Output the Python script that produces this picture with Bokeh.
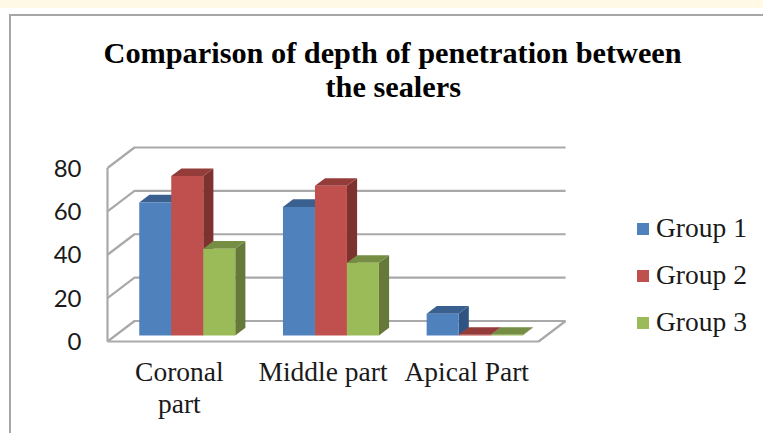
from bokeh.plotting import figure
from bokeh.embed import file_html
from bokeh.resources import INLINE
from bokeh.models import Range1d, Legend, LegendItem, FixedTicker, Title

categories = ["Coronal\npart", "Middle part", "Apical Part"]
groups = ["Group 1", "Group 2", "Group 3"]
group_1 = [61.3, 59.3, 10]
group_2 = [73.5, 69, 0.3]
group_3 = [40, 33.5, 0.3]
y_ticks = [0, 20, 40, 60, 80]

front_colors = ["#4f81bd", "#c0504d", "#9bbb59"]
side_colors = ["#2f5482", "#7d3230", "#66793a"]
top_colors = ["#3a6090", "#943c3a", "#758e43"]
wall = "#a9a9a9"

W, H = 763, 433
LEFT, RIGHT, TOP, BOTTOM = 105, 0, 138, 88   # frame margins in canvas px

# scales: one category = 143.7 px, 80 units = 173.5 px
PX_X = 143.7
PX_Y = 173.5 / 80
frame_w = W - LEFT - RIGHT
frame_h = H - TOP - BOTTOM
x0 = -0.5 - 2 / PX_X
y0 = -4 / PX_Y

p = figure(width=W, height=H, output_backend="svg", toolbar_location=None,
           x_range=Range1d(x0, x0 + frame_w / PX_X),
           y_range=Range1d(y0, y0 + frame_h / PX_Y),
           min_border_left=LEFT, min_border_right=RIGHT,
           min_border_top=TOP, min_border_bottom=BOTTOM,
           background_fill_color="white", border_fill_color=None,
           outline_line_color=None)
p.xgrid.visible = False
p.ygrid.visible = False

# oblique projection of the 3D wall/floor
DX = 27 / PX_X
DY = 20.5 / PX_Y
xl, xr = -0.5, 2.5

for t in y_ticks:
    p.line([xl, xl + DX, xr + DX], [t, t + DY, t + DY], line_color=wall, line_width=2.2)
p.line([xl, xl], [0, 80], line_color=wall, line_width=2.2)
p.line([xl, xr, xr + DX], [0, 0, DY], line_color=wall, line_width=2.2)

# bars
BAR_W = 32 / PX_X
D0, D1 = 6.0 / 20.5, 13.7 / 20.5
GROUP_X0 = -1.5 * BAR_W
series = [group_1, group_2, group_3]
renderers = []
for i in range(len(categories)):
    for s, vals in enumerate(series):
        v = vals[i]
        xa = i + GROUP_X0 + s * BAR_W
        xb = xa + BAR_W
        ax, ay = D0 * DX, D0 * DY
        bx, by = D1 * DX, D1 * DY
        p.patch([xb + ax, xb + bx, xb + bx, xb + ax], [ay, by, v + by, v + ay],
                fill_color=side_colors[s], line_color=None)
        p.patch([xa + ax, xb + ax, xb + bx, xa + bx], [v + ay, v + ay, v + by, v + by],
                fill_color=top_colors[s], line_color=None)
        r = p.quad(left=[xa + ax], right=[xb + ax], bottom=[ay], top=[v + ay],
                   fill_color=front_colors[s], line_color=None)
        if i == 0:
            renderers.append(r)

# axes
p.yaxis.ticker = FixedTicker(ticks=y_ticks)
p.yaxis.axis_line_color = None
p.yaxis.major_tick_line_color = None
p.yaxis.minor_tick_line_color = None
p.yaxis.major_label_text_font = "Lato"
p.yaxis.major_label_text_font_size = "24px"
p.yaxis.major_label_text_color = "#1a1a1a"
p.yaxis.major_label_standoff = 18

p.xaxis.ticker = FixedTicker(ticks=[0, 1, 2])
p.xaxis.major_label_overrides = {i: c for i, c in enumerate(categories)}
p.xaxis.axis_line_color = None
p.xaxis.major_tick_line_color = None
p.xaxis.minor_tick_line_color = None
p.xaxis.major_label_text_font = "Liberation Serif"
p.xaxis.major_label_text_font_size = "27.5px"
p.xaxis.major_label_text_color = "#1a1a1a"
p.xaxis.major_label_text_line_height = 1.05
p.xaxis.major_label_standoff = 4

# title: two lines placed separately, second one centred under the first
p.title = None
spacer = Title(text=" ", text_font_size="1px", standoff=32)
t2 = Title(text="the sealers", align="left", offset=220, text_font="Liberation Serif",
           text_font_style="bold", text_font_size="30.3px", text_color="#000000", standoff=0)
t1 = Title(text="Comparison of depth of penetration between", align="left", offset=-2,
           text_font="Liberation Serif", text_font_style="bold", text_font_size="30.3px",
           text_color="#000000", standoff=-4)
p.add_layout(spacer, "above")
p.add_layout(t2, "above")
p.add_layout(t1, "above")

# legend
legend = Legend(items=[LegendItem(label=g, renderers=[r]) for g, r in zip(groups, renderers)],
                location=(530, 7), orientation="vertical",
                background_fill_alpha=0, border_line_color=None,
                label_text_font="Liberation Serif", label_text_font_size="27.5px",
                label_text_color="#1a1a1a", glyph_width=15, glyph_height=15,
                label_standoff=6, spacing=15, margin=0, padding=0)
p.add_layout(legend, "center")

css = """<style>
html, body { background-color: #ffffff;
  background-image: linear-gradient(#fff9e6,#fff9e6), linear-gradient(#a6a6a6,#a6a6a6), linear-gradient(#a6a6a6,#a6a6a6);
  background-size: 100% 8px, 100% 2px, 2px 100%;
  background-position: 0 0, 9px 14px, 9px 14px;
  background-repeat: no-repeat; }
</style>"""
html = file_html(p, INLINE).replace("<head>", "<head>" + css, 1)
open("out.html", "w").write(html)
